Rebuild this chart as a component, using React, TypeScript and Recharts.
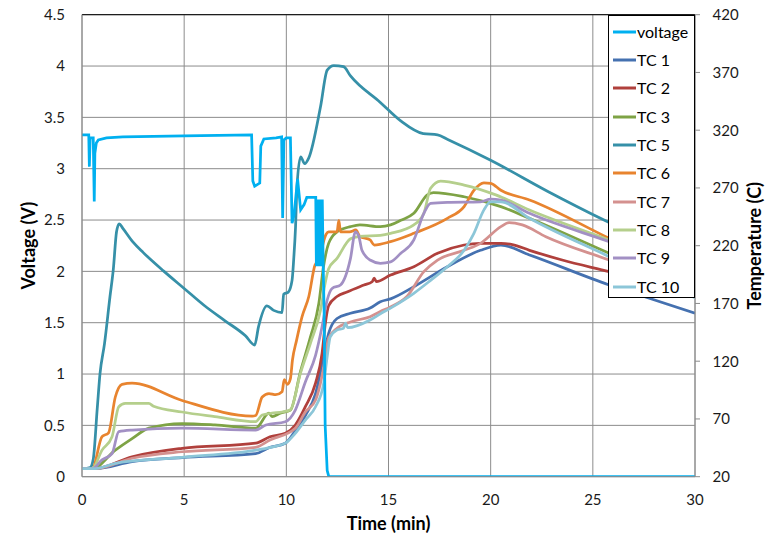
import React from 'react';
import { LineChart, Line, XAxis, YAxis, CartesianGrid, ReferenceLine, Legend } from 'recharts';

// ---- axis ticks ----
const TIME_TICKS = [0, 5, 10, 15, 20, 25, 30];
const VOLT_TICKS = [0, 0.5, 1, 1.5, 2, 2.5, 3, 3.5, 4, 4.5];
const TEMP_TICKS = [20, 70, 120, 170, 220, 270, 320, 370, 420];

// ---- voltage (V) ----
const voltT = [0, 0.33, 0.36, 0.4, 0.55, 0.6, 0.63, 0.7, 0.8, 1.2, 2, 5, 8.3, 8.36, 8.45, 8.7, 8.75, 8.9, 9.5, 9.77, 9.82, 9.88, 10.0, 10.2, 10.28, 10.38, 10.55, 10.7, 10.87, 11.0, 11.44, 11.47, 11.5, 11.53, 11.56, 11.6, 11.63, 11.66, 11.7, 11.73, 11.76, 11.8, 11.85, 11.9, 12.0, 12.08, 20, 30];
const voltV = [3.33, 3.33, 3.02, 3.3, 3.3, 2.68, 3.15, 3.25, 3.28, 3.3, 3.31, 3.32, 3.33, 2.88, 2.83, 2.86, 3.22, 3.29, 3.3, 3.31, 2.52, 3.28, 3.3, 3.3, 2.47, 2.55, 2.9, 2.6, 2.65, 2.72, 2.72, 2.05, 2.7, 2.05, 2.7, 2.05, 2.7, 2.05, 2.7, 2.05, 2.7, 2.1, 1.6, 0.5, 0.06, 0.0, 0.0, 0.0];

// ---- thermocouples (C) ----
const tc1T = [0, 0.65, 2.45, 4.9, 8.5, 9.15, 9.95, 10.44, 10.93, 11.43, 11.83, 12.07, 12.48, 13.14, 14.1, 14.6, 15.1, 16.24, 17.88, 19.5, 20.5, 21.9, 25.8, 27.5, 30];
const tc1V = [27, 27, 33, 36.5, 40, 45, 49, 60, 73, 92, 124, 144, 157, 161.5, 166, 171.5, 174, 184.5, 201.8, 216, 220.6, 212, 186, 176, 161.5];

const tc2T = [0, 0.65, 2.45, 4.9, 8.5, 9.2, 9.95, 10.44, 10.93, 11.43, 11.75, 11.91, 12.07, 12.48, 12.97, 13.8, 14.2, 14.3, 14.4, 15.1, 16.24, 17.4, 18.7, 19.5, 20.5, 21.06, 21.9, 23.5, 25.8, 30];
const tc2V = [27, 27, 37.3, 44.6, 49, 54.6, 57.6, 64.8, 80.6, 101, 127, 152.8, 168, 176, 180, 186, 188.8, 192, 189, 194.6, 201.8, 213.4, 220.6, 222, 222, 221, 216, 207.6, 197.5, 178];

const tc3T = [0, 0.5, 1.63, 2.45, 3.27, 4.9, 6.5, 8.5, 9.15, 9.3, 9.7, 10.2, 10.69, 11.18, 11.59, 11.82, 12.07, 12.48, 13.14, 13.6, 14.6, 15.1, 15.6, 16.24, 16.9, 17.2, 18.7, 20.5, 21.9, 25.8, 30];
const tc3V = [27, 27, 43, 53, 62, 66, 64.8, 62, 75, 72, 75, 77.7, 111, 141, 170, 202, 222, 232, 236.5, 238, 236.5, 238, 242, 248, 264, 266, 262.4, 253.8, 243.7, 213.4, 181];

const tc5T = [0, 0.4, 0.55, 0.75, 0.88, 1.1, 1.37, 1.53, 1.69, 1.82, 2.0, 2.5, 3.0, 4.0, 5.0, 6.0, 7.0, 8.0, 8.45, 8.64, 9.05, 9.38, 9.79, 9.87, 10.1, 10.28, 10.36, 10.45, 10.52, 10.7, 10.9, 11.1, 11.67, 12.0, 12.32, 12.8, 13.14, 14.6, 15.6, 16.7, 17.4, 17.9, 20.0, 22.8, 25.8, 30];
const tc5V = [27, 28, 35, 80, 109, 135, 176, 199, 232, 239, 235, 223, 214, 198, 183, 168, 155, 142, 134, 150, 168, 164, 162, 178, 180, 190, 208, 236, 271, 297, 291, 296, 340, 372, 376, 375, 367, 344, 328, 317, 316, 312, 294, 267, 240, 205];

const tc6T = [0, 0.5, 0.98, 1.3, 1.63, 1.96, 2.45, 4.9, 8.33, 8.5, 8.82, 9.15, 9.48, 9.79, 9.9, 10.05, 10.2, 10.3, 10.5, 10.77, 11.1, 11.4, 11.65, 11.8, 11.95, 12.07, 12.48, 12.57, 12.65, 13.1, 13.4, 13.6, 14.1, 14.3, 15.1, 16.24, 17.88, 18.7, 19.18, 19.67, 20.0, 20.5, 21.9, 25.8, 30];
const tc6V = [27, 27, 54.6, 58, 89, 100, 101, 86, 72.5, 73, 89, 92, 91, 93.6, 104, 100, 105, 121, 138, 158.5, 176, 203, 209, 222, 230, 232, 232, 242, 232, 232, 233.6, 228, 225, 220.6, 223.5, 230.7, 243.7, 253.8, 268, 274.5, 274, 268, 259.6, 226.4, 190.7];

const tc7T = [0, 0.65, 2.45, 4.9, 8.5, 9.2, 10.44, 10.93, 11.43, 11.67, 11.83, 12.07, 12.48, 13.14, 14.1, 14.6, 15.1, 15.9, 16.73, 17.4, 18.7, 19.5, 20.5, 20.9, 21.55, 22.7, 25.8, 30];
const tc7V = [27, 27, 36, 41.6, 45.4, 51.8, 62, 76, 86.4, 101, 115, 140, 148.5, 154, 158.5, 163, 167, 176, 197.5, 207.6, 216, 222, 236.5, 240, 238, 227.8, 207.6, 180];

const tc8T = [0, 0.5, 0.98, 1.47, 1.8, 2.12, 3.27, 3.5, 4.9, 6.5, 8.5, 8.82, 9.3, 9.79, 10.2, 10.69, 11.18, 11.67, 11.9, 12.07, 12.48, 13.14, 13.6, 14.6, 15.1, 16.24, 16.73, 17.06, 17.55, 18.7, 20.25, 21.9, 25.8, 30];
const tc8V = [27, 27, 43, 54.6, 80.6, 83.5, 83.5, 81, 76, 72, 67.6, 73.4, 75, 76, 78, 109.5, 135.5, 164, 187.5, 200, 209, 226, 228, 229, 230.7, 238, 248, 269.7, 276, 272.5, 264, 251, 225, 197];

const tc9T = [0, 0.5, 0.98, 1.47, 1.8, 2.45, 4.9, 8.5, 9.0, 9.95, 10.44, 10.93, 11.43, 11.75, 12.0, 12.24, 12.65, 13.14, 13.38, 13.55, 13.7, 14.1, 14.6, 15.1, 15.6, 16.24, 16.73, 17.06, 17.88, 19.5, 20.0, 20.5, 21.9, 25.8, 30];
const tc9V = [27, 27, 34.5, 40, 59, 60.4, 62, 60.4, 64.8, 67.6, 77.7, 102, 125, 150, 173, 183, 186, 209, 232, 228, 216, 207.6, 204.8, 206, 213.4, 225, 248, 256.7, 257.6, 258, 260.4, 259.5, 248, 223.5, 197];

const tc10T = [0, 0.65, 1.63, 4.9, 8.5, 9.5, 9.95, 10.44, 10.93, 11.43, 11.83, 12.0, 12.15, 12.48, 12.8, 12.9, 13.0, 14.1, 14.6, 15.1, 16.24, 17.06, 17.88, 18.7, 19.18, 19.67, 20.0, 20.5, 21.9, 25.8, 30];
const tc10V = [27, 27, 31.6, 36.8, 43, 46.5, 49, 57.6, 69, 80.6, 101, 124, 141, 147, 148.5, 153, 149, 155.7, 161, 166, 178.8, 190, 201.8, 216, 230.7, 251, 258, 258, 243.7, 210.5, 175];

const NAMES = ['voltage', 'TC 1', 'TC 2', 'TC 3', 'TC 5', 'TC 6', 'TC 7', 'TC 8', 'TC 9', 'TC 10'];
const COLORS = ['#00B0F0', '#4571B0', '#B0403C', '#7EA345', '#3690A8', '#E8842F', '#D4918F', '#B5CF8C', '#A290C4', '#8CC6D8'];

const toPts = (ts: number[], vs: number[]) => ts.map((t, i) => ({ t, v: vs[i] }));

const TC_SERIES = [
  toPts(tc1T, tc1V),
  toPts(tc2T, tc2V),
  toPts(tc3T, tc3V),
  toPts(tc5T, tc5V),
  toPts(tc6T, tc6V),
  toPts(tc7T, tc7V),
  toPts(tc8T, tc8V),
  toPts(tc9T, tc9V),
  toPts(tc10T, tc10V),
];
const VOLT_SERIES = toPts(voltT, voltV);

const FONT = 'Lato, "Open Sans", sans-serif';
const tickStyle = { fontFamily: FONT, fontSize: 15, fill: '#1a1a1a' };

const LegendBox = () => (
  <div
    style={{
      width: 87,
      height: 283,
      boxSizing: 'border-box',
      border: '1px solid #000',
      background: '#fff',
      fontFamily: FONT,
      fontSize: 16,
      color: '#000',
      position: 'relative',
    }}
  >
    {NAMES.map((n, i) => (
      <div
        key={n}
        style={{ position: 'absolute', left: 4, top: 6 + i * 28.35, height: 20, display: 'flex', alignItems: 'center', whiteSpace: 'nowrap' }}
      >
        <svg width={23} height={6} style={{ display: 'block' }}>
          <line x1={0} y1={3} x2={23} y2={3} stroke={COLORS[i]} strokeWidth={3} />
        </svg>
        <span style={{ marginLeft: 1, lineHeight: '20px' }}>{n}</span>
      </div>
    ))}
  </div>
);

export default function App() {
  return (
    <div style={{ position: 'absolute', left: 0, top: 0, width: 774, height: 534, background: '#fff' }}>
      <LineChart width={774} height={534} margin={{ top: 14.7, right: 0, bottom: 0, left: 0 }}>
        <CartesianGrid xAxisId="x" yAxisId="left" stroke="#8c8c8c" strokeWidth={1} vertical horizontal />
        <XAxis
          xAxisId="x"
          dataKey="t"
          type="number"
          domain={[0, 30]}
          ticks={TIME_TICKS}
          allowDataOverflow
          height={57.3}
          tickLine={false}
          tickSize={0}
          tickMargin={17.5}
          axisLine={{ stroke: '#8c8c8c' }}
          tick={tickStyle}
          label={{
            content: () => (
              <text x={388.5} y={530} textAnchor="middle" fontFamily={FONT} fontWeight={700} fontSize={18} fill="#000">
                Time (min)
              </text>
            ),
          }}
        />
        <YAxis
          yAxisId="left"
          orientation="left"
          type="number"
          domain={[0, 4.5]}
          ticks={VOLT_TICKS}
          allowDataOverflow
          width={82}
          tickLine={false}
          tickSize={0}
          tickMargin={17}
          axisLine={{ stroke: '#8c8c8c' }}
          tick={tickStyle}
          label={{
            content: () => (
              <text x={35} y={245.7} transform="rotate(-90 35 245.7)" textAnchor="middle" fontFamily={FONT} fontWeight={700} fontSize={18} fill="#000">
                Voltage (V)
              </text>
            ),
          }}
        />
        <YAxis
          yAxisId="right"
          orientation="right"
          type="number"
          domain={[20, 420]}
          ticks={TEMP_TICKS}
          allowDataOverflow
          width={79}
          tickLine={{ stroke: '#8c8c8c' }}
          tickSize={5}
          tickMargin={12.5}
          axisLine={{ stroke: '#8c8c8c' }}
          tick={tickStyle}
          label={{
            content: () => (
              <text x={761} y={245.7} transform="rotate(-90 761 245.7)" textAnchor="middle" fontFamily={FONT} fontWeight={700} fontSize={18} fill="#000">
                Temperature (C)
              </text>
            ),
          }}
        />
        <ReferenceLine xAxisId="x" yAxisId="left" y={4.5} stroke="#000" strokeWidth={1} />
        {TC_SERIES.map((d, i) => (
          <Line
            key={NAMES[i + 1]}
            name={NAMES[i + 1]}
            xAxisId="x"
            yAxisId="right"
            data={d}
            dataKey="v"
            type="monotone"
            stroke={COLORS[i + 1]}
            strokeWidth={2.75}
            dot={false}
            activeDot={false}
            isAnimationActive={false}
          />
        ))}
        <Line
          name="voltage"
          xAxisId="x"
          yAxisId="left"
          data={VOLT_SERIES}
          dataKey="v"
          type="linear"
          stroke={COLORS[0]}
          strokeWidth={2.75}
          dot={false}
          activeDot={false}
          isAnimationActive={false}
        />
        <Legend
          layout="vertical"
          align="center"
          verticalAlign="middle"
          content={() => <LegendBox />}
          wrapperStyle={{ position: 'absolute', left: 608, top: 14.7, width: 87, height: 283, margin: 0 }}
        />
      </LineChart>
    </div>
  );
}
